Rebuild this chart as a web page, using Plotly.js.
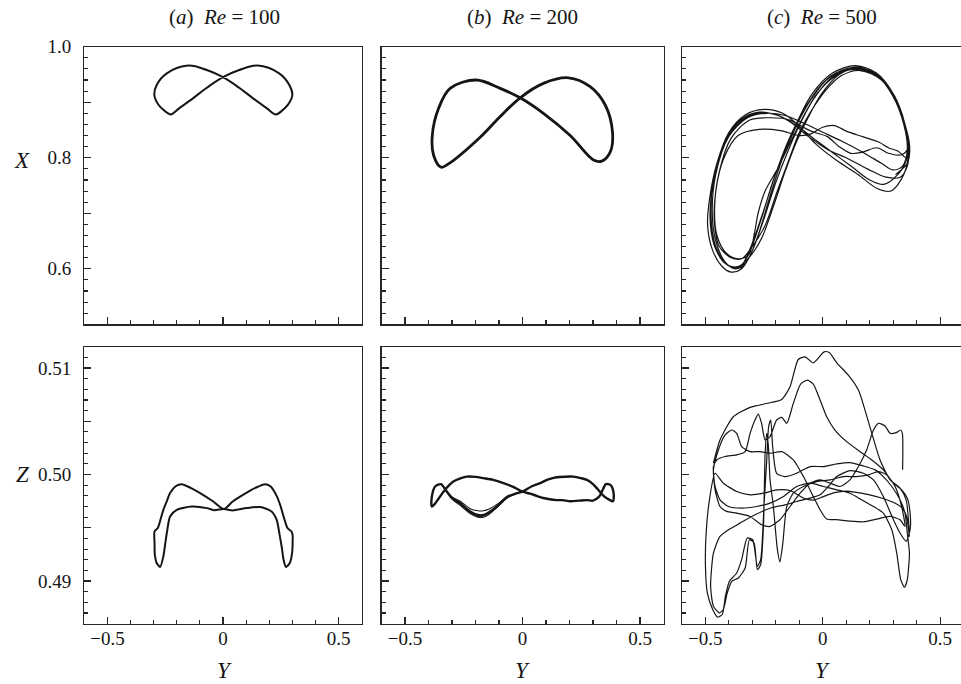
<!DOCTYPE html>
<html>
<head>
<meta charset="utf-8">
<script src="https://cdn.plot.ly/plotly-3.0.1.min.js"></script>
<style>
  html, body { margin: 0; padding: 0; overflow: hidden; background: #fff; }
  #chart { width: 965px; height: 684px; }
</style>
</head>
<body>
<div id="chart"></div>
<script>
// ---- Trajectory data: (Y, X) in the top row, (Y, Z) in the bottom row ----

// (a) Re = 100 : one closed figure-eight
const aTopY = [0, -0.07, -0.15, -0.243, -0.287, -0.297, -0.280, -0.251, -0.226, -0.19, -0.13, -0.07,
               0, 0.07, 0.15, 0.243, 0.287, 0.30, 0.282, 0.253, 0.229, 0.19, 0.13, 0.07, 0];
const aTopX = [0.945, 0.958, 0.966, 0.952, 0.931, 0.913, 0.896, 0.884, 0.878, 0.889, 0.907, 0.926,
               0.945, 0.958, 0.966, 0.952, 0.931, 0.913, 0.896, 0.884, 0.878, 0.889, 0.907, 0.926, 0.945];

const aBotY = [0.004, 0.042, 0.099, 0.14, 0.182, 0.205, 0.232, 0.248, 0.262, 0.279, 0.296, 0.301, 0.301,
               0.299, 0.289, 0.272, 0.262, 0.254, 0.246, 0.232, 0.21, 0.16, 0.102, 0.042, 0.004,
               -0.04, -0.07, -0.135, -0.20, -0.229, -0.243, -0.25, -0.258, -0.272, -0.287, -0.295,
               -0.296, -0.296, -0.282, -0.27, -0.258, -0.243, -0.229, -0.205, -0.179, -0.14, -0.099,
               -0.042, 0.004];
const aBotZ = [0.49676, 0.49747, 0.49826, 0.49875, 0.4991, 0.4989, 0.4980, 0.4971, 0.49607, 0.49498,
               0.49466, 0.49435, 0.4935, 0.49264, 0.4917, 0.49133, 0.49201, 0.4932, 0.4942, 0.49576,
               0.49654, 0.49695, 0.49685, 0.49663, 0.49676,
               0.49666, 0.49685, 0.4970, 0.49669, 0.49607, 0.49451, 0.4935, 0.49232, 0.49133, 0.4917,
               0.4925, 0.4935, 0.49466, 0.49498, 0.4958, 0.49669, 0.4975, 0.49826, 0.4989, 0.4991,
               0.49875, 0.49826, 0.49747, 0.49676];

// (b) Re = 200 : figure-eight with slightly drifting cycles
const bTopY = [-0.01, 0.089, 0.196, 0.288, 0.352, 0.383, 0.373, 0.338, 0.302, 0.203, 0.089,
               -0.01, -0.095, -0.197, -0.308, -0.357, -0.384, -0.378, -0.347, -0.315, -0.18, -0.10, -0.01];
const bTopX = [0.908, 0.934, 0.944, 0.928, 0.895, 0.846, 0.810, 0.794, 0.796, 0.840, 0.880,
               0.908, 0.925, 0.940, 0.925, 0.889, 0.840, 0.804, 0.783, 0.789, 0.837, 0.872, 0.908];

const bBotY = [0.00, 0.04, 0.075, 0.11, 0.146, 0.18, 0.217, 0.25, 0.274, 0.30, 0.317, 0.345, 0.372, 0.385,
               0.388, 0.375, 0.355, 0.340, 0.325, 0.30, 0.274, 0.24, 0.203, 0.17, 0.146, 0.11, 0.089,
               0.06, 0.033, 0.00, -0.04, -0.081, -0.125, -0.166, -0.20, -0.237, -0.27, -0.294, -0.329,
               -0.355, -0.375, -0.386, -0.386, -0.371, -0.347, -0.335, -0.322, -0.30, -0.265, -0.223,
               -0.19, -0.166, -0.14, -0.109, -0.066, -0.03, 0.00];
const bBotZ = [0.4984, 0.4989, 0.4992, 0.49955, 0.49975, 0.4998, 0.4998, 0.49965, 0.4995, 0.4991, 0.4987,
               0.4980, 0.4976, 0.4975, 0.4982, 0.4990, 0.4991, 0.4985, 0.4979, 0.49755, 0.4976, 0.49755,
               0.4975, 0.4976, 0.4976, 0.4977, 0.4978, 0.4980, 0.4982, 0.4984, 0.49885, 0.4992, 0.4995,
               0.49966, 0.49978, 0.4998, 0.4996, 0.49935, 0.4986, 0.4978, 0.4972, 0.4970, 0.4979, 0.4989,
               0.4991, 0.4988, 0.4984, 0.4978, 0.4973, 0.49654, 0.4962, 0.4962, 0.4965, 0.4970, 0.4979,
               0.4982, 0.4984];

// the lower-left dip differs slightly from cycle to cycle
const bDipY  = [-0.322, -0.30, -0.265, -0.223, -0.19, -0.166, -0.14, -0.109, -0.066, -0.03, 0.00];
const bDip1Z = [0.4984, 0.4977, 0.4971, 0.49635, 0.4960, 0.4960, 0.4963, 0.4969, 0.4978, 0.4982, 0.4984];
const bDip2Z = [0.4984, 0.4978, 0.4972, 0.49645, 0.4961, 0.49612, 0.4964, 0.49695, 0.4978, 0.4982, 0.4984];
const bDip3Z = [0.4984, 0.4979, 0.4975, 0.4968, 0.4966, 0.4966, 0.4968, 0.4972, 0.4979, 0.4982, 0.4984];

// (c) Re = 500 : irregular, successive cycles listed one after another
const cTopY = [
  -0.35, -0.305, -0.255, -0.205, -0.155, -0.105, -0.045, 0.04, 0.14, 0.23, 0.30, 0.345, 0.365, 0.345, 0.29, 0.23,
  0.15, 0.06, -0.03, -0.10, -0.17, -0.25, -0.33, -0.40, -0.45, -0.48, -0.49, -0.47, -0.43, -0.39,
  -0.345, -0.30, -0.25, -0.20, -0.145, -0.095, -0.04, 0.04, 0.12, 0.21, 0.29, 0.34, 0.365, 0.36, 0.33, 0.27,
  0.19, 0.10, 0.02, -0.06, -0.13, -0.20, -0.28, -0.36, -0.43, -0.47, -0.478, -0.455, -0.41, -0.36,
  -0.31, -0.26, -0.21, -0.16, -0.11, -0.065, -0.005, 0.07, 0.15, 0.24, 0.31, 0.355, 0.37, 0.355, 0.32, 0.28,
  0.24, 0.17, 0.10, 0.05, 0.00, -0.05, -0.10, -0.18, -0.27, -0.36, -0.42, -0.455, -0.46, -0.44, -0.39, -0.345,
  -0.30, -0.245, -0.195, -0.145, -0.10, -0.055, 0.01, 0.08, 0.16, 0.25, 0.315, 0.355, 0.36, 0.33, 0.28, 0.23,
  0.17, 0.12, 0.07, 0.02, -0.03, -0.07, -0.14, -0.22, -0.31, -0.39, -0.44, -0.46, -0.45, -0.41, -0.36,
  -0.315, -0.29, -0.275, -0.245, -0.19, -0.135, -0.085, -0.025, 0.05, 0.14, 0.23, 0.30, 0.345, 0.36, 0.34, 0.30,
  0.25, 0.17, 0.08, 0.00, -0.08, -0.16, -0.24, -0.32, -0.40, -0.455, -0.47, -0.455, -0.415, -0.37,
  -0.325, -0.275, -0.225, -0.17, -0.115, -0.06, 0.015, 0.11, 0.21, 0.29, 0.34, 0.36, 0.355, 0.32, 0.26,
  0.20, 0.12, 0.04, -0.04, -0.11, -0.19, -0.27, -0.35, -0.42, -0.465, -0.475, -0.455, -0.41, -0.36,
  -0.32, -0.265, -0.21, -0.16, -0.11, -0.05, 0.03, 0.13, 0.22, 0.30, 0.35, 0.37, 0.36, 0.31
];
const cTopX = [
  0.598, 0.640, 0.700, 0.765, 0.822, 0.868, 0.915, 0.952, 0.966, 0.952, 0.915, 0.865, 0.815, 0.770, 0.740, 0.745,
  0.770, 0.795, 0.825, 0.857, 0.880, 0.887, 0.877, 0.845, 0.790, 0.730, 0.680, 0.635, 0.605, 0.594,
  0.600, 0.632, 0.690, 0.755, 0.815, 0.862, 0.905, 0.945, 0.960, 0.955, 0.920, 0.875, 0.825, 0.785, 0.765, 0.765,
  0.780, 0.800, 0.815, 0.838, 0.862, 0.878, 0.880, 0.862, 0.815, 0.745, 0.680, 0.635, 0.608, 0.604,
  0.622, 0.655, 0.712, 0.775, 0.830, 0.870, 0.915, 0.950, 0.962, 0.947, 0.905, 0.850, 0.810, 0.800, 0.812, 0.818,
  0.828, 0.838, 0.848, 0.858, 0.855, 0.843, 0.840, 0.849, 0.851, 0.840, 0.800, 0.740, 0.680, 0.640, 0.620, 0.618,
  0.640, 0.678, 0.738, 0.795, 0.845, 0.880, 0.920, 0.948, 0.957, 0.940, 0.900, 0.845, 0.815, 0.805, 0.808, 0.818,
  0.810, 0.808, 0.820, 0.838, 0.845, 0.852, 0.868, 0.872, 0.868, 0.835, 0.775, 0.710, 0.660, 0.628, 0.618,
  0.625, 0.665, 0.700, 0.740, 0.782, 0.830, 0.872, 0.915, 0.946, 0.960, 0.948, 0.910, 0.860, 0.815, 0.785, 0.778,
  0.790, 0.810, 0.830, 0.846, 0.862, 0.876, 0.880, 0.872, 0.838, 0.770, 0.700, 0.650, 0.612, 0.600,
  0.612, 0.660, 0.730, 0.800, 0.855, 0.900, 0.940, 0.958, 0.952, 0.922, 0.876, 0.830, 0.795, 0.770, 0.752,
  0.760, 0.785, 0.810, 0.835, 0.858, 0.876, 0.882, 0.868, 0.825, 0.760, 0.690, 0.640, 0.608, 0.602,
  0.622, 0.685, 0.760, 0.815, 0.860, 0.905, 0.946, 0.963, 0.953, 0.912, 0.860, 0.820, 0.790, 0.770
];

// (Y, Z) samples of the Re = 500 path, in order along the trajectory
const cBotPath = [
  [-0.465, 0.50106], [-0.437, 0.50325], [-0.380, 0.50543], [-0.309, 0.50630], [-0.224, 0.50674],
  [-0.174, 0.50705], [-0.139, 0.50824], [-0.104, 0.51080], [-0.075, 0.51105], [-0.040, 0.51049],
  [0.006, 0.51152], [0.028, 0.51145], [0.060, 0.51049], [0.109, 0.50933], [0.152, 0.50793],
  [0.180, 0.50605], [0.209, 0.50387], [0.244, 0.50137], [0.287, 0.49950], [0.329, 0.49872],
  [0.355, 0.49763], [0.366, 0.49544], [0.369, 0.49419],
  [0.357, 0.49607], [0.336, 0.49690], [0.300, 0.49740], [0.250, 0.49780], [0.200, 0.49810],
  [0.150, 0.49830], [0.100, 0.49845], [0.050, 0.49830], [0.000, 0.49790], [-0.040, 0.49760],
  [-0.082, 0.49780], [-0.139, 0.49850], [-0.196, 0.49856], [-0.252, 0.49825], [-0.309, 0.49810],
  [-0.366, 0.49841], [-0.423, 0.49919], [-0.458, 0.50012],
  [-0.482, 0.49763], [-0.496, 0.49451], [-0.499, 0.49139], [-0.491, 0.48889], [-0.468, 0.48733],
  [-0.447, 0.48661], [-0.427, 0.48689], [-0.414, 0.48858], [-0.397, 0.48998], [-0.366, 0.49076],
  [-0.345, 0.49201], [-0.321, 0.49404], [-0.298, 0.49388], [-0.278, 0.49139], [-0.264, 0.49201],
  [-0.250, 0.49700], [-0.238, 0.50137], [-0.230, 0.50449], [-0.221, 0.50512], [-0.213, 0.50262],
  [-0.196, 0.50012], [-0.160, 0.49981], [-0.111, 0.50012], [-0.054, 0.50075], [0.003, 0.50075],
  [0.060, 0.50100], [0.116, 0.50112], [0.173, 0.50081], [0.223, 0.50044], [0.258, 0.49981],
  [0.294, 0.49888], [0.329, 0.49763], [0.350, 0.49638], [0.360, 0.49451],
  [0.369, 0.49263], [0.360, 0.49014], [0.348, 0.48942], [0.332, 0.49014], [0.315, 0.49263],
  [0.294, 0.49482], [0.258, 0.49638], [0.216, 0.49700], [0.166, 0.49763], [0.116, 0.49825],
  [0.060, 0.49856], [0.003, 0.49888], [-0.054, 0.49919], [-0.111, 0.49888], [-0.167, 0.49794],
  [-0.224, 0.49732], [-0.281, 0.49700], [-0.345, 0.49684], [-0.401, 0.49700], [-0.437, 0.49763],
  [-0.458, 0.49888], [-0.465, 0.50075],
  [-0.451, 0.50137], [-0.416, 0.50169], [-0.366, 0.50184], [-0.330, 0.50215], [-0.309, 0.50387],
  [-0.288, 0.50512], [-0.274, 0.50568], [-0.260, 0.50481], [-0.245, 0.50325], [-0.224, 0.50356],
  [-0.196, 0.50512], [-0.174, 0.50537], [-0.153, 0.50481], [-0.125, 0.50668], [-0.094, 0.50849],
  [-0.065, 0.50886], [-0.040, 0.50849], [-0.011, 0.50699], [0.017, 0.50543], [0.052, 0.50418],
  [0.102, 0.50309], [0.159, 0.50215], [0.209, 0.50137], [0.258, 0.50044], [0.301, 0.49919],
  [0.336, 0.49856], [0.360, 0.49778], [0.372, 0.49638], [0.372, 0.49482],
  [0.355, 0.49373], [0.329, 0.49451], [0.301, 0.49576], [0.258, 0.49794], [0.216, 0.49950],
  [0.173, 0.50012], [0.116, 0.50037], [0.060, 0.49981], [0.024, 0.49888], [-0.011, 0.49810],
  [-0.054, 0.49778], [-0.111, 0.49747], [-0.160, 0.49716], [-0.224, 0.49684], [-0.288, 0.49622],
  [-0.352, 0.49544], [-0.401, 0.49482], [-0.437, 0.49419],
  [-0.465, 0.49263], [-0.477, 0.48951], [-0.465, 0.48764], [-0.440, 0.48702], [-0.423, 0.48733],
  [-0.406, 0.48889], [-0.387, 0.48998], [-0.359, 0.49029], [-0.330, 0.49123], [-0.312, 0.49388],
  [-0.292, 0.49357], [-0.278, 0.49107], [-0.264, 0.49154], [-0.252, 0.49513], [-0.245, 0.50200],
  [-0.238, 0.50387], [-0.231, 0.50262], [-0.224, 0.49950], [-0.210, 0.49700], [-0.193, 0.49300],
  [-0.182, 0.49180], [-0.170, 0.49350], [-0.153, 0.49700], [-0.125, 0.49825], [-0.082, 0.49888],
  [-0.026, 0.49934], [0.031, 0.49950], [0.088, 0.49981], [0.145, 0.49981], [0.194, 0.49997],
  [0.237, 0.50028], [0.272, 0.49997], [0.308, 0.49888], [0.336, 0.49700], [0.350, 0.49513],
  [0.329, 0.49576], [0.287, 0.49607], [0.230, 0.49582], [0.173, 0.49557], [0.116, 0.49563],
  [0.060, 0.49576], [0.017, 0.49582], [-0.011, 0.49669], [-0.040, 0.49794], [-0.082, 0.49981],
  [-0.125, 0.50137], [-0.174, 0.50215], [-0.224, 0.50200], [-0.267, 0.50215], [-0.309, 0.50215],
  [-0.345, 0.50262], [-0.366, 0.50387], [-0.387, 0.50418], [-0.416, 0.50371], [-0.444, 0.50231],
  [-0.465, 0.50044],
  [-0.458, 0.49856], [-0.437, 0.49700], [-0.409, 0.49654], [-0.366, 0.49638], [-0.309, 0.49607],
  [-0.260, 0.49529], [-0.224, 0.49513], [-0.182, 0.49576], [-0.139, 0.49700], [-0.096, 0.49825],
  [-0.054, 0.49919], [-0.011, 0.49950], [0.031, 0.49919], [0.074, 0.49888], [0.116, 0.49950],
  [0.152, 0.50075], [0.187, 0.50231], [0.216, 0.50418], [0.237, 0.50481], [0.265, 0.50456],
  [0.287, 0.50387], [0.312, 0.50393], [0.332, 0.50418], [0.339, 0.50387], [0.340, 0.50044]
];

// axis ticks and panel labels
const xTickStep = 0.5;
const xMinorStep = 0.1;
const topTickVals = [0.5, 0.6, 0.7, 0.8, 0.9, 1.0];
const topTickText = ['', '0.6', '', '0.8', '', '1.0'];
const botTickVals = [0.490, 0.495, 0.500, 0.505, 0.510];
const botTickText = ['0.49', '', '0.50', '', '0.51'];
const panelTitles = ['(<i>a</i>)\u00a0\u00a0<i>Re</i> = 100', '(<i>b</i>)\u00a0\u00a0<i>Re</i> = 200', '(<i>c</i>)\u00a0\u00a0<i>Re</i> = 500'];

// ---- Styling and layout ----
const serif = 'Liberation Serif, Times New Roman, serif';
const ink = '#151515';
const axisInk = '#262626';
const W = 965, H = 684;
const colPx = [[84.3, 361.7], [381.5, 663.5], [681.7, 963.7]];
const rowPx = [[46.7, 324.3], [346.7, 623.7]];

const frame = {
  showline: true, mirror: true, linecolor: axisInk, linewidth: 1.2,
  showgrid: false, zeroline: false, ticks: 'inside', tickcolor: axisInk, tickwidth: 1.2,
  fixedrange: true, tickfont: { family: serif, size: 19, color: ink }
};

const layout = {
  width: W, height: H,
  margin: { l: 0, r: 0, t: 0, b: 0 },
  paper_bgcolor: '#ffffff', plot_bgcolor: '#ffffff',
  showlegend: false,
  font: { family: serif, color: ink },
  annotations: []
};

for (let r = 0; r < 2; r++) {
  for (let c = 0; c < 3; c++) {
    const n = r * 3 + c + 1;
    const sx = n === 1 ? '' : String(n);
    layout['xaxis' + sx] = Object.assign({}, frame, {
      domain: [colPx[c][0] / W, colPx[c][1] / W],
      anchor: 'y' + sx,
      range: [-0.6, 0.6],
      tickmode: 'linear', tick0: 0, dtick: xTickStep, ticklen: 7,
      ticklabelstandoff: -3,
      showticklabels: r === 1,
      minor: { tick0: 0, dtick: xMinorStep, ticks: 'inside', ticklen: 4, tickcolor: axisInk, tickwidth: 1.1, showgrid: false }
    });
    layout['yaxis' + sx] = Object.assign({}, frame, {
      domain: [1 - rowPx[r][1] / H, 1 - rowPx[r][0] / H],
      anchor: 'x' + sx,
      range: r === 0 ? [0.5, 1.0] : [0.486, 0.512],
      tickmode: 'array',
      tickvals: r === 0 ? topTickVals : botTickVals,
      ticktext: r === 0 ? topTickText : botTickText,
      ticklen: 7,
      ticklabelstandoff: 8,
      showticklabels: c === 0,
      minor: r === 0
        ? { tick0: 0.5, dtick: 0.02, ticks: 'inside', ticklen: 4, tickcolor: axisInk, tickwidth: 1.1, showgrid: false }
        : { tick0: 0.486, dtick: 0.001, ticks: 'inside', ticklen: 4, tickcolor: axisInk, tickwidth: 1.1, showgrid: false }
    });
  }
}

// column titles and axis letters
for (let c = 0; c < 3; c++) {
  const cx = (colPx[c][0] + 140.5) / W;
  layout.annotations.push({
    text: panelTitles[c], xref: 'paper', yref: 'paper', x: cx,
    y: 1 - 17 / H, xanchor: 'center', yanchor: 'middle', showarrow: false,
    font: { family: serif, size: 21, color: ink }
  });
  layout.annotations.push({
    text: '<i>Y</i>', xref: 'paper', yref: 'paper', x: cx,
    y: 1 - 670 / H, xanchor: 'center', yanchor: 'middle', showarrow: false,
    font: { family: serif, size: 23, color: ink }
  });
}
layout.annotations.push({
  text: '<i>X</i>', xref: 'paper', yref: 'paper', x: 22 / W, y: 1 - 160 / H,
  xanchor: 'center', yanchor: 'middle', showarrow: false, font: { family: serif, size: 23, color: ink }
});
layout.annotations.push({
  text: '<i>Z</i>', xref: 'paper', yref: 'paper', x: 22 / W, y: 1 - 474 / H,
  xanchor: 'center', yanchor: 'middle', showarrow: false, font: { family: serif, size: 23, color: ink }
});

function curve(xs, ys, n, width, smoothing) {
  const s = n === 1 ? '' : String(n);
  return {
    type: 'scatter', mode: 'lines', x: xs, y: ys, xaxis: 'x' + s, yaxis: 'y' + s,
    line: { color: ink, width: width, shape: 'spline', smoothing: smoothing },
    hoverinfo: 'skip'
  };
}

const traces = [
  curve(aTopY, aTopX, 1, 2.0, 1),
  curve(bTopY, bTopX, 2, 2.8, 1),
  curve(cTopY, cTopX, 3, 1.2, 0.9),
  curve(aBotY, aBotZ, 4, 2.0, 0.7),
  curve(bBotY, bBotZ, 5, 2.4, 0.8),
  curve(bDipY, bDip1Z, 5, 1.1, 0.8),
  curve(bDipY, bDip2Z, 5, 1.1, 0.8),
  curve(bDipY, bDip3Z, 5, 1.1, 0.8),
  curve(cBotPath.map(p => p[0]), cBotPath.map(p => p[1]), 6, 1.2, 0.6)
];

Plotly.newPlot('chart', traces, layout, { displayModeBar: false, staticPlot: true });
</script>
</body>
</html>
